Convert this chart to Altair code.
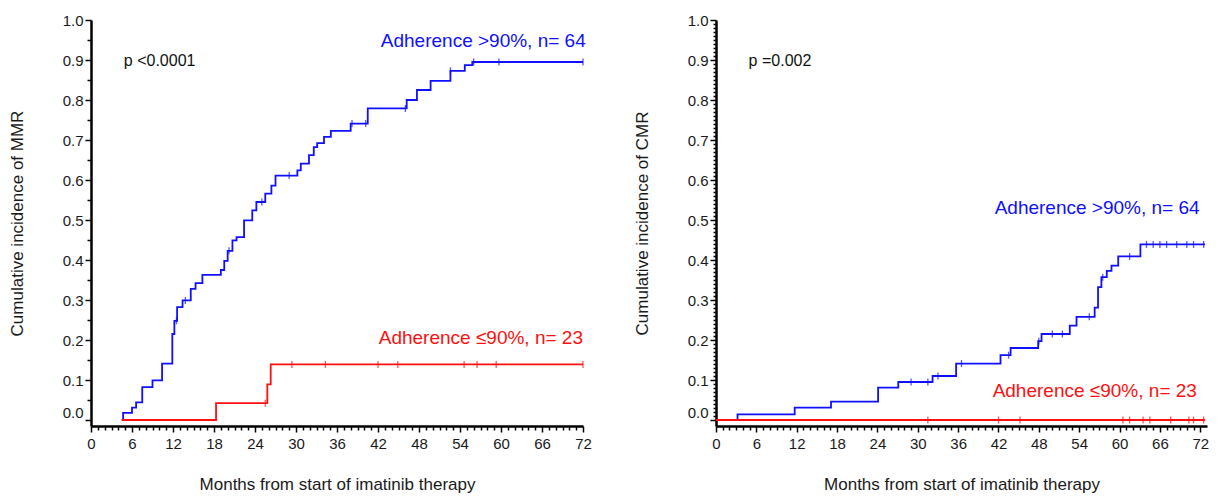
import altair as alt
import pandas as pd

BLUE = "#1010ff"
RED = "#ff1010"

# ---------------- Left panel: cumulative incidence of MMR ----------------
mmr_hi_t = [4.5, 4.7, 6.0, 6.6, 7.5, 9.0, 10.4, 11.9, 12.2, 12.6, 13.4, 14.6, 15.3,
            16.3, 19.0, 19.5, 20.0, 20.7, 21.3, 22.4, 23.6, 24.2, 25.5, 26.4, 27.0,
            30.2, 30.7, 31.9, 32.6, 33.1, 34.1, 35.1, 38.0, 40.5, 46.2, 47.7, 49.7,
            52.6, 54.7, 55.8, 72.0]
mmr_hi_v = [0.0, 0.018, 0.031, 0.044, 0.082, 0.099, 0.141, 0.215, 0.248, 0.282, 0.299,
            0.328, 0.342, 0.363, 0.375, 0.398, 0.423, 0.449, 0.457, 0.499, 0.524, 0.545,
            0.566, 0.586, 0.611, 0.624, 0.641, 0.662, 0.682, 0.692, 0.708, 0.723, 0.741,
            0.779, 0.800, 0.825, 0.848, 0.873, 0.887, 0.895, 0.895]
mmr_lo_t = [4.5, 18.3, 25.8, 26.3, 72.0]
mmr_lo_v = [0.0, 0.042, 0.089, 0.139, 0.139]
mmr_hi_cens = [12.5, 13.8, 20.2, 25.0, 29.0, 38.2, 40.2, 46.0, 52.6, 56.0, 59.7, 72.0]
mmr_lo_cens = [25.5, 29.4, 34.3, 42.0, 44.9, 54.6, 56.5, 59.3, 72.0]

# ---------------- Right panel: cumulative incidence of CMR ----------------
cmr_hi_t = [0.0, 3.2, 11.7, 17.1, 24.1, 27.1, 32.2, 35.7, 42.3, 43.8, 47.9, 48.4, 52.6,
            53.6, 56.3, 56.8, 57.3, 58.1, 58.8, 59.8, 63.1, 72.7]
cmr_hi_v = [0.0, 0.014, 0.031, 0.046, 0.081, 0.095, 0.110, 0.141, 0.162, 0.180, 0.197,
            0.215, 0.236, 0.258, 0.281, 0.332, 0.357, 0.373, 0.386, 0.409, 0.439, 0.439]
cmr_lo_t = [0.0, 72.7]
cmr_lo_v = [0.0, 0.0]
cmr_hi_cens = [29.0, 31.5, 33.0, 36.5, 43.5, 48.0, 50.0, 51.5, 55.5, 57.5, 61.5, 64.0,
               65.0, 66.0, 67.0, 68.5, 70.0, 71.0, 72.5]
cmr_lo_cens = [31.5, 42.0, 45.2, 60.5, 61.5, 63.5, 64.5, 67.6, 70.3, 71.0, 72.5]

# annotations (months, value)
mmr_p_text = ["p <0.0001"]
mmr_p_pos = [(4.8, 0.897)]
mmr_lbl_text = ["Adherence >90%, n= 64", "Adherence \u226490%, n= 23"]
mmr_lbl_pos = [(72.4, 0.947), (72.0, 0.205)]
cmr_p_text = ["p =0.002"]
cmr_p_pos = [(4.85, 0.897)]
cmr_lbl_text = ["Adherence >90%, n= 64", "Adherence \u226490%, n= 23"]
cmr_lbl_pos = [(71.9, 0.529), (71.5, 0.073)]

x_ticks = list(range(0, 73))
FONT = "Liberation Sans"


def step_value(ts, vs, t):
    v = vs[0]
    for ti, vi in zip(ts, vs):
        if ti <= t:
            v = vi
    return v


def panel(hi_t, hi_v, lo_t, lo_v, hi_c, lo_c, p_text, p_pos, lbl_text, lbl_pos,
          ytitle, xmax, width, yvals, dense):
    steps = pd.DataFrame({
        "t": hi_t + lo_t,
        "v": hi_v + lo_v,
        "g": ["hi"] * len(hi_t) + ["lo"] * len(lo_t),
    })
    cens = pd.DataFrame({
        "t": hi_c + lo_c,
        "v": [step_value(hi_t, hi_v, t) for t in hi_c] + [step_value(lo_t, lo_v, t) for t in lo_c],
        "g": ["hi"] * len(hi_c) + ["lo"] * len(lo_c),
    })
    ptxt = pd.DataFrame({"t": [p[0] for p in p_pos], "v": [p[1] for p in p_pos], "s": p_text})
    ltxt = pd.DataFrame({"t": [p[0] for p in lbl_pos], "v": [p[1] for p in lbl_pos],
                         "s": lbl_text, "g": ["hi", "lo"]})

    xs = alt.Scale(domain=[0, xmax], nice=False, zero=False)
    ys = alt.Scale(domain=[-0.015, 1.0], nice=False, zero=False)
    color = alt.Color("g:N", scale=alt.Scale(domain=["hi", "lo"], range=[BLUE, RED]), legend=None)

    xaxis = alt.Axis(
        values=x_ticks,
        tickCount=500,
        labelExpr="datum.value % 6 == 0 ? datum.label : ''",
        format="d",
        labelOverlap=False,
        labelFlush=False,
        tickSize={"condition": {"test": "datum.value % 6 == 0", "value": 6}, "value": 4},
        labelPadding=4,
        titlePadding=25,
        grid=False,
    )
    if dense:
        ytick = {"condition": {"test": "round(datum.value*100) % 10 == 0", "value": 6}, "value": 3}
    else:
        ytick = {"condition": {"test": "round(datum.value*100) % 10 == 0", "value": 6}, "value": 4}
    yaxis = alt.Axis(
        values=yvals,
        tickCount=500,
        labelExpr="round(datum.value*100) % 10 == 0 ? format(datum.value, '.1f') : ''",
        labelOverlap=False,
        labelFlush=False,
        tickSize=ytick,
        labelBaseline={"condition": {"test": "datum.value == 0", "value": "bottom"}, "value": "middle"},
        labelPadding=2,
        titlePadding=36,
        grid=False,
    )

    lines = alt.Chart(steps).mark_line(interpolate="step-after", strokeWidth=1.8).encode(
        x=alt.X("t:Q", scale=xs, axis=xaxis, title="Months from start of imatinib therapy"),
        y=alt.Y("v:Q", scale=ys, axis=yaxis, title=ytitle),
        color=color,
        detail="g:N",
    )
    ticks = alt.Chart(cens).mark_tick(orient="vertical", size=7, thickness=1.3).encode(
        x=alt.X("t:Q", scale=xs), y=alt.Y("v:Q", scale=ys), color=color
    )
    ptext = alt.Chart(ptxt).mark_text(align="left", baseline="middle", fontSize=16,
                                      font=FONT, color="#111").encode(
        x=alt.X("t:Q", scale=xs), y=alt.Y("v:Q", scale=ys), text="s:N"
    )
    ltext = alt.Chart(ltxt).mark_text(align="right", baseline="middle", fontSize=19,
                                      font=FONT).encode(
        x=alt.X("t:Q", scale=xs), y=alt.Y("v:Q", scale=ys), text="s:N", color=color
    )
    return alt.layer(lines, ticks, ptext, ltext).properties(width=width, height=406)


yvals_left = [round(i * 0.05, 2) for i in range(0, 21)]
yvals_right = [round(i * 0.01, 2) for i in range(0, 101)]

left = panel(mmr_hi_t, mmr_hi_v, mmr_lo_t, mmr_lo_v, mmr_hi_cens, mmr_lo_cens,
             mmr_p_text, mmr_p_pos, mmr_lbl_text, mmr_lbl_pos,
             "Cumulative incidence of MMR", 72, 492, yvals_left, False)
right = panel(cmr_hi_t, cmr_hi_v, cmr_lo_t, cmr_lo_v, cmr_hi_cens, cmr_lo_cens,
              cmr_p_text, cmr_p_pos, cmr_lbl_text, cmr_lbl_pos,
              "Cumulative incidence of CMR", 73, 491, yvals_right, True)

chart = alt.hconcat(left, right, spacing=41).properties(
    padding={"left": 0, "top": 5, "right": 0, "bottom": 5}
).configure_view(stroke=None).configure_axis(
    domainColor="black", domainWidth=2.5, tickColor="black", tickWidth=1.5,
    labelColor="#1a1a1a", labelFont=FONT, labelFontSize=15,
    titleColor="#1a1a1a", titleFont=FONT, titleFontSize=17, titleFontWeight="normal",
)

chart.save("out.html", embed_options={"renderer": "svg", "actions": False})
